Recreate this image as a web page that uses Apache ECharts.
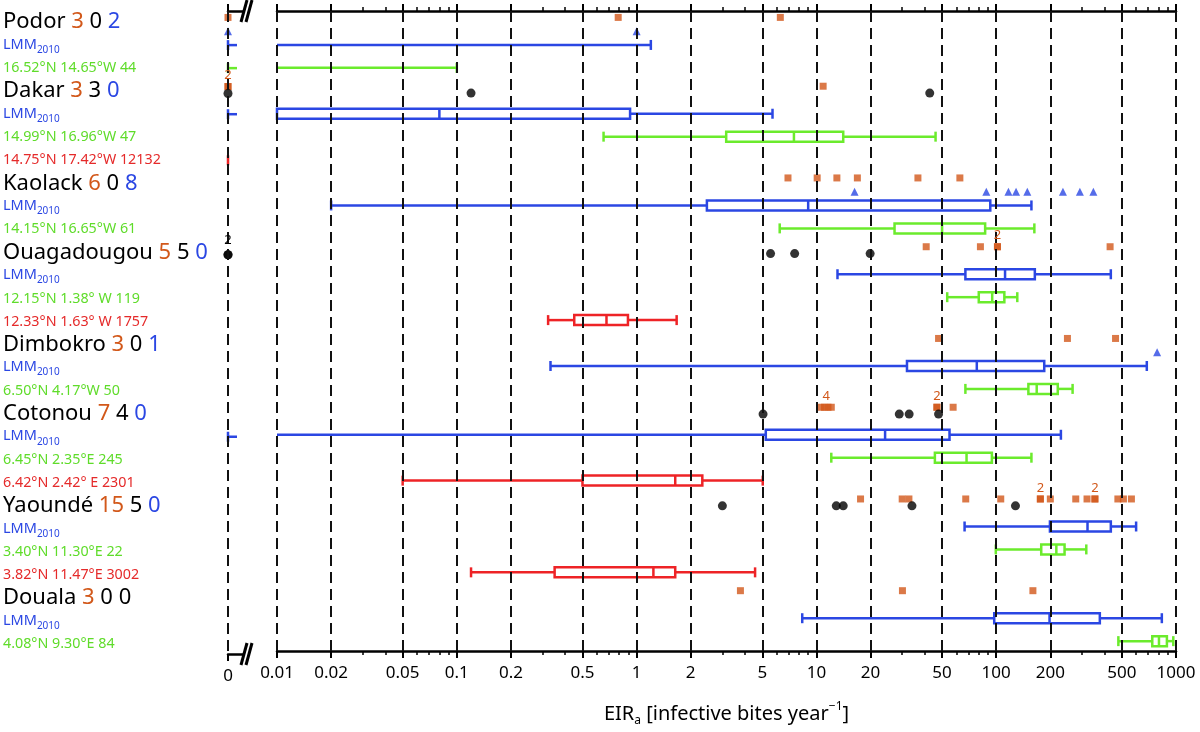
<!DOCTYPE html>
<html><head><meta charset="utf-8">
<script src="https://cdn.jsdelivr.net/npm/echarts@6/dist/echarts.min.js"></script>
<style>html,body{margin:0;padding:0;background:#fff}#c{width:1200px;height:732px}</style>
</head><body><div id="c"></div>
<script>
// ---------------- DATA ----------------
const stations = ['Podor','Dakar','Kaolack','Ouagadougou','Dimbokro','Cotonou','Yaoundé','Douala'];
const greenSites = ['16.52°N 14.65°W 44','14.99°N 16.96°W 47','14.15°N 16.65°W 61','12.15°N 1.38° W 119','6.50°N 4.17°W 50','6.45°N 2.35°E 245','3.40°N 11.30°E 22','4.08°N 9.30°E 84'];
const redSites = [null,'14.75°N 17.42°W 12132',null,'12.33°N 1.63° W 1757',null,'6.42°N 2.42° E 2301','3.82°N 11.47°E 3002',null];
// box summaries: [low whisker, Q1, median, Q3, high whisker]
const lmmBox = [
  [0,0,0,0,1.2],
  [0,0,0.08,0.92,5.7],
  [0.02,2.46,9.0,92.7,157],
  [13.1,67.4,112,164,434],
  [0.332,31.9,78,185,688],
  [0,5.23,24.1,55,229],
  [66.7,199,322,434,600],
  [8.34,97.5,198,377,834]
];
const greenBox = [
  [0,0,0,0,0.1],
  [0.655,3.15,7.5,14.1,46],
  [6.25,27.2,50,86.8,163],
  [53.4,80,95,111,131],
  [67.4,151,168,220,266],
  [12.1,45.6,68.4,94.6,157],
  [99.5,178,216,240,317],
  [478,738,804,890,966]
];
const redBox = [null,[0,0,0,0,0],null,[0.322,0.45,0.68,0.895,1.67],null,[0.05,0.5,1.64,2.32,5.03],[0.12,0.35,1.24,1.64,4.56],null];
// individual EIR values
const orangePts = [
  [0,0.79,6.3],
  [0,0,10.9],
  [6.95,10.1,13.0,16.9,36.7,62.8],
  [40.8,81.7,101.6,101.6,430],
  [47.8,249,461],
  [10.6,11.1,11.6,12.1,46.8,46.8,57.6],
  [17.6,30.0,32.7,67.7,106,176,176,200,277,320,354,354,475,510,565],
  [3.78,30.1,160]
];
const blackPts = [
  [],
  [0,0.12,42.7],
  [],
  [0,0,5.56,7.57,19.9],
  [],
  [5.05,28.9,32.8,47.8],
  [3.0,12.9,14.1,34.0,128],
  []
];
const bluePts = [
  [0,1.0],
  [],
  [16.3,88.1,117,129,149,235,292,347],
  [],
  [785],
  [],[],[]
];
// [station index, kind, value, count]
const multiples = [
  [1,'orange',0,2],[3,'orange',101.6,2],[3,'black',0,2],[5,'orange',11.35,4],
  [5,'orange',46.8,2],[6,'orange',176,2],[6,'orange',354,2]
];
const tickValues = [0.01,0.02,0.05,0.1,0.2,0.5,1,2,5,10,20,50,100,200,500,1000];
const tickLabels = ['0.01','0.02','0.05','0.1','0.2','0.5','1','2','5','10','20','50','100','200','500','1000'];
const minorTickValues = [0.03,0.04,0.06,0.07,0.08,0.09,0.3,0.4,0.6,0.7,0.8,0.9,3,4,6,7,8,9,30,40,60,70,80,90,300,400,600,700,800,900];
const plainBlueCount = ['Douala'];

// ---------------- STYLE ----------------
const FONT = '"Noto Sans", "DejaVu Sans", sans-serif';
const C_ORANGE = '#D2581A', C_BLUE = '#2B47E3', C_GREEN = '#6BEB2C', C_RED = '#EE2326';
const OFF = {orange: -0.2, black: 0.1, blue: 0.4};
const BOX_H = 10, LW = 2.5, STUB = 9, LOGMIN = 0.01;

// ---------------- BUILD ROWS ----------------
const rowLabels = [];
const rowOf = [];
stations.forEach((s, i) => {
  const r = {};
  r.title = rowLabels.length;
  const bs = plainBlueCount.includes(s) ? 't' : 'b';
  rowLabels.push(`{t|${s} }{o|${orangePts[i].length}}{t| ${blackPts[i].length} }{${bs}|${bluePts[i].length}}`);
  r.lmm = rowLabels.length; rowLabels.push('{l|LMM}{s|2010}');
  r.green = rowLabels.length; rowLabels.push(`{g|${greenSites[i]}}`);
  if (redSites[i]) { r.red = rowLabels.length; rowLabels.push(`{r|${redSites[i]}}`); }
  rowOf.push(r);
});
const NROW = rowLabels.length;

const boxData = {blue:{log:[],zero:[]}, green:{log:[],zero:[]}, red:{log:[],zero:[]}};
function addBox(key, row, b) {
  if (!b) return;
  if (b[4] >= LOGMIN) boxData[key].log.push([row].concat(b));
  if (b[0] === 0) boxData[key].zero.push([row].concat(b));
}
stations.forEach((s, i) => {
  addBox('blue', rowOf[i].lmm, lmmBox[i]);
  addBox('green', rowOf[i].green, greenBox[i]);
  if (redBox[i]) addBox('red', rowOf[i].red, redBox[i]);
});

const pts = {orange:{log:[],zero:[]}, black:{log:[],zero:[]}, blue:{log:[],zero:[]}};
[['orange',orangePts],['black',blackPts],['blue',bluePts]].forEach(([k, arr]) => {
  arr.forEach((list, i) => list.forEach(v => {
    pts[k][v > 0 ? 'log' : 'zero'].push([v, rowOf[i].title + OFF[k]]);
  }));
});
const multLog = {orange:[], black:[]}, multZero = {orange:[], black:[]};
multiples.forEach(([i, k, v, n]) => {
  (v > 0 ? multLog : multZero)[k].push([v, rowOf[i].title + OFF[k], n]);
});

// ---------------- RENDERERS ----------------
function boxRender(isZero) {
  return function (params, api) {
    const row = api.value(0);
    const lo = api.value(1), q1 = api.value(2), med = api.value(3), q3 = api.value(4), hi = api.value(5);
    const color = api.visual('color');
    const st = {stroke: color, lineWidth: LW, fill: 'none'};
    const ch = [];
    const L = (x1, y1, x2, y2) => ch.push({type:'line', shape:{x1,y1,x2,y2}, style: st});
    const h = BOX_H / 2;
    if (isZero) {
      const p = api.coord([0, row]);
      L(p[0], p[1] - h, p[0], p[1] + h);
      if (hi > 0) L(p[0], p[1], p[0] + STUB, p[1]);
    } else {
      const c = x => api.coord([Math.max(x, LOGMIN), row]);
      const pLo = c(lo), pHi = c(hi), y = pLo[1];
      if (q3 >= LOGMIN) {
        const pQ1 = c(q1), pQ3 = c(q3);
        L(pLo[0], y, pQ1[0], y);
        L(pQ3[0], y, pHi[0], y);
        ch.push({type:'rect', shape:{x:pQ1[0], y:y - h, width:pQ3[0] - pQ1[0], height:BOX_H}, style: st});
        if (med >= LOGMIN) { const pM = c(med); L(pM[0], y - h, pM[0], y + h); }
      } else {
        L(pLo[0], y, pHi[0], y);
      }
      if (lo >= LOGMIN) L(pLo[0], y - h, pLo[0], y + h);
      L(pHi[0], y - h, pHi[0], y + h);
    }
    return {type:'group', children: ch};
  };
}

const series = [];
// grid lines
series.push({type:'line', xAxisIndex:2, yAxisIndex:1, data:[], z:1,
  markLine:{silent:true, symbol:'none', animation:false, label:{show:false},
    lineStyle:{type:[11,6], width:2, color:'#111'}, data: tickValues.map(v => ({xAxis:v}))}});
series.push({type:'line', xAxisIndex:0, yAxisIndex:0, data:[], z:1,
  markLine:{silent:true, symbol:'none', animation:false, label:{show:false},
    lineStyle:{type:[11,6], width:2, color:'#111'}, data: [{xAxis:0}]}});
// boxes
[['blue',C_BLUE],['green',C_GREEN],['red',C_RED]].forEach(([k, col]) => {
  series.push({type:'custom', xAxisIndex:2, yAxisIndex:1, z:3, itemStyle:{color:col},
    renderItem: boxRender(false), encode:{x:5, y:0}, data: boxData[k].log});
  series.push({type:'custom', xAxisIndex:0, yAxisIndex:0, z:3, itemStyle:{color:col},
    renderItem: boxRender(true), encode:{x:1, y:0}, data: boxData[k].zero});
});
// points
const sym = {orange:['rect',7,C_ORANGE], black:['circle',9,'#000'], blue:['triangle',8,C_BLUE]};
Object.keys(sym).forEach(k => {
  const [s, size, col] = sym[k];
  series.push({type:'scatter', xAxisIndex:2, yAxisIndex:1, z:4, symbol:s, symbolSize:size, itemStyle:{color:col}, data: pts[k].log});
  series.push({type:'scatter', xAxisIndex:0, yAxisIndex:0, z:4, symbol:s, symbolSize:size, itemStyle:{color:col}, data: pts[k].zero});
});
// multiplicity labels
[['orange',C_ORANGE,4],['black','#000',7]].forEach(([k, col, dist]) => {
  const lab = {show:true, position:'top', distance:dist, color:col, opacity:1, fontSize:13, fontFamily:FONT, formatter: p => String(p.value[2])};
  series.push({type:'scatter', xAxisIndex:2, yAxisIndex:1, z:5, symbolSize:1, itemStyle:{color:'rgba(0,0,0,0)'}, label:lab, data: multLog[k]});
  series.push({type:'scatter', xAxisIndex:0, yAxisIndex:0, z:5, symbolSize:1, itemStyle:{color:'rgba(0,0,0,0)'}, label:lab, data: multZero[k]});
});

const axisLineStyle = {show:true, onZero:false, lineStyle:{color:'#000', width:2.5}};
const noLine = {show:false, onZero:false};
const fmtTick = v => { const i = tickValues.findIndex(t => Math.abs(Math.log10(t) - Math.log10(v)) < 1e-6); return i >= 0 ? tickLabels[i] : ''; };

const option = {
  animation: false,
  backgroundColor: '#fff',
  grid: [
    {left: 226, width: 17, top: 11, height: 643},
    {left: 277, right: 24, top: 11, height: 643}
  ],
  xAxis: [
    {gridIndex:0, type:'value', min:0, max:1, position:'bottom', axisLine:axisLineStyle,
      axisTick:{customValues:[0], length:7, lineStyle:{width:2, color:'#000'}},
      axisLabel:{customValues:[0], formatter:()=>'0', fontSize:17, color:'#000', fontFamily:FONT, margin:14}, splitLine:{show:false}},
    {gridIndex:0, type:'value', min:0, max:1, position:'top', axisLine:axisLineStyle,
      axisTick:{customValues:[0], length:7, lineStyle:{width:2, color:'#000'}}, axisLabel:{show:false}, splitLine:{show:false}},
    {gridIndex:1, type:'log', logBase:10, min:0.01, max:1000, position:'bottom', axisLine:axisLineStyle,
      axisTick:{customValues:tickValues, length:7, lineStyle:{width:2, color:'#000'}},
      axisLabel:{customValues:tickValues, formatter:fmtTick, fontSize:17, color:'#000', fontFamily:FONT, margin:14},
      splitLine:{show:false}, minorTick:{show:false}, minorSplitLine:{show:false},
      name:'{m|EIR}{sub|a}{m| [infective bites year}{sup|−1}{m|]}', nameLocation:'middle', nameGap:50,
      nameTextStyle:{rich:{
        m:{fontSize:20, fontFamily:FONT, color:'#000', lineHeight:26, verticalAlign:'middle'},
        sub:{fontSize:12, fontFamily:FONT, color:'#000', lineHeight:12, verticalAlign:'bottom'},
        sup:{fontSize:12, fontFamily:FONT, color:'#000', lineHeight:12, verticalAlign:'top'}}}},
    {gridIndex:1, type:'log', logBase:10, min:0.01, max:1000, position:'top', axisLine:axisLineStyle,
      axisTick:{customValues:tickValues, length:7, lineStyle:{width:2, color:'#000'}}, axisLabel:{show:false}, splitLine:{show:false}},
    {gridIndex:1, type:'log', logBase:10, min:0.01, max:1000, position:'bottom', axisLine:noLine,
      axisTick:{customValues:minorTickValues, length:4, lineStyle:{width:1.5, color:'#000'}}, axisLabel:{show:false}, splitLine:{show:false}},
    {gridIndex:1, type:'log', logBase:10, min:0.01, max:1000, position:'top', axisLine:noLine,
      axisTick:{customValues:minorTickValues, length:4, lineStyle:{width:1.5, color:'#000'}}, axisLabel:{show:false}, splitLine:{show:false}}
  ],
  yAxis: [
    {gridIndex:0, type:'value', min:-0.48, max:NROW - 0.57, inverse:true, axisLine:{show:false, onZero:false}, axisTick:{show:false}, splitLine:{show:false},
      axisLabel:{customValues: rowLabels.map((_, i) => i), formatter: v => rowLabels[Math.round(v)] || '', align:'left', margin:225,
        fontFamily:FONT, rich:{
          t:{fontSize:22, color:'#000', fontFamily:FONT},
          o:{fontSize:22, color:C_ORANGE, fontFamily:FONT},
          b:{fontSize:22, color:C_BLUE, fontFamily:FONT},
          l:{fontSize:14.5, color:C_BLUE, fontFamily:FONT, lineHeight:16, verticalAlign:'top'},
          s:{fontSize:10, color:C_BLUE, fontFamily:FONT, lineHeight:10, padding:[8,0,0,0], verticalAlign:'top'},
          g:{fontSize:14.3, color:'#5FDC2A', fontFamily:FONT},
          r:{fontSize:14.3, color:'#E52A2A', fontFamily:FONT}
        }}},
    {gridIndex:1, type:'value', min:-0.48, max:NROW - 0.57, inverse:true, show:false, axisLine:{onZero:false}}
  ],
  graphic: [
    {type:'line', shape:{x1:241, y1:22, x2:247, y2:0}, style:{stroke:'#000', lineWidth:3}},
    {type:'line', shape:{x1:246, y1:22, x2:252, y2:0}, style:{stroke:'#000', lineWidth:3}},
    {type:'line', shape:{x1:241, y1:665, x2:247, y2:643}, style:{stroke:'#000', lineWidth:3}},
    {type:'line', shape:{x1:246, y1:665, x2:252, y2:643}, style:{stroke:'#000', lineWidth:3}}
  ],
  series
};
const chart = echarts.init(document.getElementById('c'), null, {renderer:'canvas'});
chart.setOption(option);
</script>
</body></html>
